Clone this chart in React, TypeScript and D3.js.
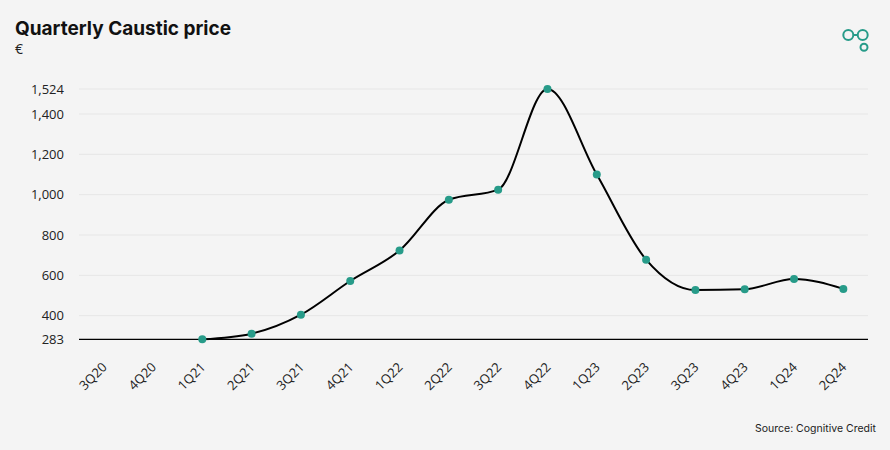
import React from "react";
import * as d3 from "d3";

const categories = ["3Q20","4Q20","1Q21","2Q21","3Q21","4Q21","1Q22","2Q22","3Q22","4Q22","1Q23","2Q23","3Q23","4Q23","1Q24","2Q24"];
const prices: (number | null)[] = [null,null,283,311,405,572,723,975,1025,1524,1100,678,527,531,582,533];
const yTicks = [283,400,600,800,1000,1200,1400,1524];
const gridTicks = [400,600,800,1000,1200,1400,1524];

const W = 890, H = 450;
const TEAL = "#279b89";

export default function App() {
  const x = d3.scaleBand<string>().domain(categories).range([79, 868]).padding(0);
  const y = d3.scaleLinear().domain([283, 1524]).range([339.3, 89]);
  const cx = (c: string) => (x(c) as number) + x.bandwidth() / 2;
  const pts = categories.map((c, i) => ({ c, v: prices[i] })).filter(d => d.v != null) as { c: string; v: number }[];
  const line = d3.line<{ c: string; v: number }>().x(d => cx(d.c)).y(d => y(d.v)).curve(d3.curveMonotoneX);
  const fmt = d3.format(",");
  return (
    <div style={{ position: "absolute", left: 0, top: 0 }}>
      <svg width={W} height={H} style={{ display: "block", background: "#f4f4f4" }}>
        <rect width={W} height={H} fill="#f4f4f4" />
        <text x={15} y={35} fontFamily="Inter, 'Open Sans', sans-serif" fontWeight={700} fontSize={19} fill="#111">Quarterly Caustic price</text>
        <text x={15} y={54} fontFamily="'Open Sans', sans-serif" fontSize={14} fill="#222">€</text>
        <g fill="none" stroke={TEAL} strokeWidth={2}>
          <circle cx={848.3} cy={35} r={5} />
          <circle cx={862.7} cy={35} r={5} />
          <line x1={853.3} x2={857.7} y1={35} y2={35} />
          <circle cx={864} cy={47.3} r={3.5} />
        </g>
        {gridTicks.map(t => (
          <line key={t} x1={79} x2={868} y1={y(t)} y2={y(t)} stroke="#e6e6e6" strokeWidth={1} />
        ))}
        {yTicks.map(t => (
          <text key={t} x={64} y={y(t)} dy="0.35em" textAnchor="end" fontFamily="'Open Sans', sans-serif" fontSize={13} fill="#222">{fmt(t)}</text>
        ))}
        <line x1={79} x2={868} y1={y(283)} y2={y(283)} stroke="#000" strokeWidth={1.2} />
        {categories.map(c => (
          <text key={c} transform={`translate(${cx(c) + 4},${368}) rotate(-45)`} textAnchor="end" fontFamily="'Open Sans', sans-serif" fontSize={13} fill="#222">{c}</text>
        ))}
        <path d={line(pts) || ""} fill="none" stroke="#000" strokeWidth={2} />
        {pts.map(d => (
          <circle key={d.c} cx={cx(d.c)} cy={y(d.v)} r={4} fill={TEAL} />
        ))}
        <text x={876} y={432} textAnchor="end" fontFamily="Inter, 'Open Sans', sans-serif" fontSize={10.5} fill="#222">Source: Cognitive Credit</text>
      </svg>
    </div>
  );
}
